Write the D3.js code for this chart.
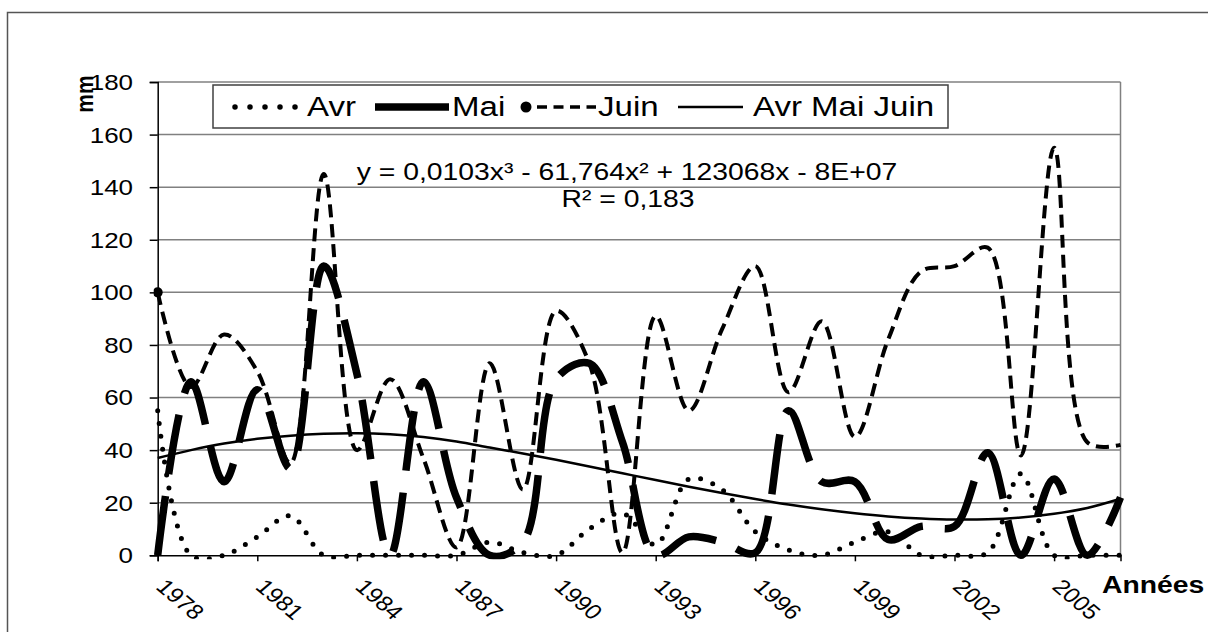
<!DOCTYPE html>
<html>
<head>
<meta charset="utf-8">
<script src="https://cdn.jsdelivr.net/npm/d3@7"></script>
<style>
  html, body { margin: 0; padding: 0; background: #fff; }
  svg { display: block; }
  text { font-family: "Liberation Sans", Arial, sans-serif; fill: #000; }
</style>
</head>
<body>
<svg id="chart" width="1208" height="632"></svg>
<script>
// Monthly rainfall (mm), April / May / June, 1978–2007
const years = d3.range(1978, 2008);
const avr  = [55, 0, 0, 7, 15, 0, 0, 0, 0, 0, 5, 1, 0, 10, 16, 4, 29, 25, 9, 2, 0, 5, 9, 0, 0, 1, 31, 0, 0, 0];
const mai  = [0, 66, 28, 63, 33, 110, 69, 0, 66, 22, 0, 5, 67, 73, 43, 0, 7, 5, 1, 55, 28, 28, 6, 11, 11, 39, 0, 29, 0, 22];
const juin = [100, 64, 84, 70, 35, 145, 40, 67, 37, 3, 73, 25, 93, 73, 1, 91, 55, 86, 110, 62, 89, 45, 82, 108, 110, 117, 38, 155, 43, 42];
// Polynomial (order 3) trend of the Apr-May-Jun series, per year
const trend = [37.0, 40.0, 42.5, 44.3, 45.5, 46.2, 46.4, 46.0, 45.0, 43.3, 41.0, 38.7, 36.3, 33.8, 31.2, 28.6, 26.1, 23.7, 21.4, 19.3, 17.5, 16.0, 14.8, 14.0, 13.6, 13.7, 14.4, 15.8, 18.0, 21.5];
const yTicks = [0, 20, 40, 60, 80, 100, 120, 140, 160, 180];
const xTicks = [1978, 1981, 1984, 1987, 1990, 1993, 1996, 1999, 2002, 2005];
const legendLabels = ["Avr", "Mai", "Juin", "Avr Mai Juin"];
const equation = "y = 0,0103x³ - 61,764x² + 123068x - 8E+07";
const r2 = "R² = 0,183";

const SX = 1.18; // horizontal text stretch
const P = { left: 157.7, right: 1120.5, top: 82, bottom: 555.3 };

const svg = d3.select("#chart");
const x = d3.scalePoint().domain(years).range([P.left, P.right]);
const y = d3.scaleLinear().domain([0, 180]).range([P.bottom, P.top]);

// outer chart frame
svg.append("rect").attr("x", 7.5).attr("y", 12.5).attr("width", 1230).attr("height", 650)
  .attr("fill", "none").attr("stroke", "#555").attr("stroke-width", 1.5);

// gridlines
svg.append("g").selectAll("line").data(yTicks.filter(d => d > 0)).join("line")
  .attr("x1", P.left).attr("x2", P.right)
  .attr("y1", d => y(d)).attr("y2", d => y(d))
  .attr("stroke", "#808080").attr("stroke-width", 1.5);
// plot area right edge
svg.append("line").attr("x1", P.right).attr("x2", P.right).attr("y1", P.top).attr("y2", P.bottom)
  .attr("stroke", "#808080").attr("stroke-width", 1.5);

// series
svg.append("clipPath").attr("id", "plotclip").append("rect")
  .attr("x", P.left - 4).attr("y", P.top - 4).attr("width", P.right - P.left + 8).attr("height", P.bottom - P.top + 8);

const line = d3.line().x((d, i) => x(years[i])).y(d => y(d)).curve(d3.curveCatmullRom.alpha(0.5));
const g = svg.append("g").attr("clip-path", "url(#plotclip)");

g.append("path").attr("d", line(avr)).attr("fill", "none").attr("stroke", "#000")
  .attr("stroke-width", 5).attr("stroke-linecap", "round").attr("stroke-dasharray", "0 13");
g.append("path").attr("d", line(mai)).attr("fill", "none").attr("stroke", "#000")
  .attr("stroke-width", 7.5).attr("stroke-dasharray", "60 22");
g.append("path").attr("d", line(juin)).attr("fill", "none").attr("stroke", "#000")
  .attr("stroke-width", 4).attr("stroke-dasharray", "13 7");
g.append("circle").attr("cx", x(years[0])).attr("cy", y(juin[0])).attr("r", 5).attr("fill", "#000");
g.append("path").attr("d", line(trend)).attr("fill", "none").attr("stroke", "#000")
  .attr("stroke-width", 2.5);

// axes
const yAxis = svg.append("g").attr("transform", `translate(${P.left},0)`)
  .call(d3.axisLeft(y).tickValues(yTicks).tickSize(8).tickFormat(""));
const xAxis = svg.append("g").attr("transform", `translate(0,${P.bottom})`)
  .call(d3.axisBottom(x).tickValues(xTicks).tickSize(6).tickFormat(""));
[yAxis, xAxis].forEach(a => {
  a.select(".domain").attr("stroke", "#000").attr("stroke-width", 1.5);
  a.selectAll(".tick line").attr("stroke", "#000").attr("stroke-width", 1.5);
});

// y tick labels
svg.append("g").selectAll("text").data(yTicks).join("text")
  .attr("transform", d => `translate(133,${y(d)}) scale(${SX},1)`)
  .attr("text-anchor", "end").attr("dy", "0.36em")
  .style("font-size", "22px").text(d => d);

// x tick labels, rotated
svg.append("g").selectAll("text").data(xTicks).join("text")
  .attr("transform", d => `translate(${x(d) - 3},588) scale(${SX},1) rotate(45)`)
  .attr("text-anchor", "start")
  .style("font-size", "21px").text(d => d);

// axis titles
svg.append("text").attr("transform", `translate(84,94) scale(${SX},1) rotate(-90)`)
  .attr("text-anchor", "middle").attr("dy", "0.36em")
  .style("font-size", "21px").style("font-weight", "bold").text("mm");
svg.append("text").attr("transform", `translate(1102,593) scale(${SX},1)`)
  .style("font-size", "24px").style("font-weight", "bold").text("Années");

// trend equation
svg.append("text").attr("transform", `translate(627,180) scale(${SX},1)`)
  .attr("text-anchor", "middle").style("font-size", "24px").text(equation);
svg.append("text").attr("transform", `translate(628,207) scale(${SX},1)`)
  .attr("text-anchor", "middle").style("font-size", "24px").text(r2);

// legend
const lg = svg.append("g");
lg.append("rect").attr("x", 213).attr("y", 85).attr("width", 735).attr("height", 43)
  .attr("fill", "#fff").attr("stroke", "#404040").attr("stroke-width", 1.5);
const ly = 107;
lg.append("line").attr("x1", 235).attr("x2", 296).attr("y1", ly).attr("y2", ly)
  .attr("stroke", "#000").attr("stroke-width", 5.5).attr("stroke-linecap", "round").attr("stroke-dasharray", "0 15");
lg.append("line").attr("x1", 375).attr("x2", 449).attr("y1", ly).attr("y2", ly)
  .attr("stroke", "#000").attr("stroke-width", 7.5);
lg.append("circle").attr("cx", 526).attr("cy", ly).attr("r", 5.5).attr("fill", "#000");
lg.append("line").attr("x1", 537).attr("x2", 596).attr("y1", ly).attr("y2", ly)
  .attr("stroke", "#000").attr("stroke-width", 3.5).attr("stroke-dasharray", "10 6.5");
lg.append("line").attr("x1", 678).attr("x2", 743).attr("y1", ly).attr("y2", ly)
  .attr("stroke", "#000").attr("stroke-width", 2.5);
const labelX = [307, 452, 598, 753];
lg.selectAll("text.lbl").data(legendLabels).join("text").attr("class", "lbl")
  .attr("transform", (d, i) => `translate(${labelX[i]},116) scale(${SX},1)`)
  .style("font-size", "28px").text(d => d);
</script>
</body>
</html>
